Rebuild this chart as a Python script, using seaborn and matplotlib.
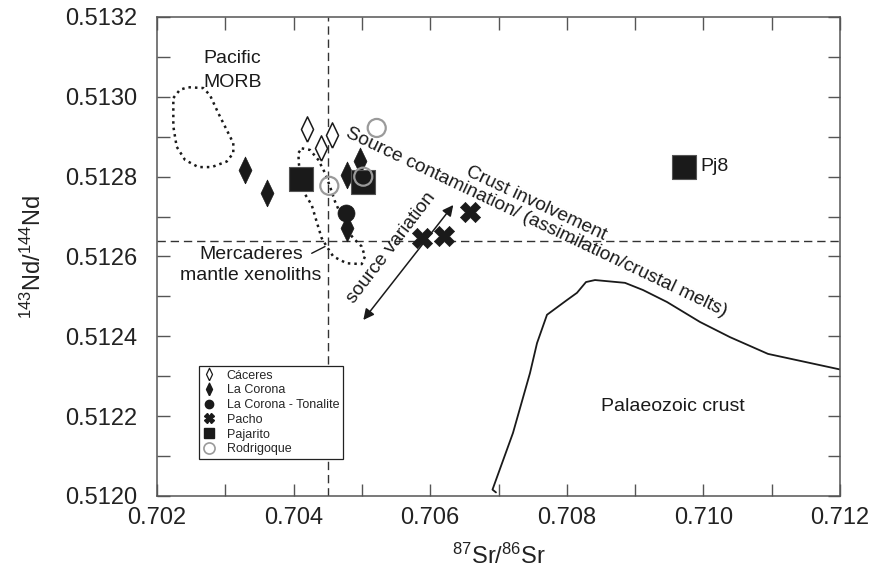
import matplotlib
matplotlib.use("Agg")
import matplotlib.pyplot as plt
import seaborn as sns
from matplotlib.lines import Line2D
from matplotlib.ticker import MultipleLocator, FormatStrFormatter

# ---------------- data ----------------
caceres_x = [0.704201, 0.704397, 0.704558]
caceres_y = [0.512919, 0.512871, 0.512905]

lacorona_x = [0.703288, 0.703606, 0.704778, 0.704972, 0.704778]
lacorona_y = [0.512817, 0.512760, 0.512805, 0.512838, 0.512672]

tonalite_x = [0.704767]
tonalite_y = [0.512709]

pacho_x = [0.705880, 0.706202, 0.706583]
pacho_y = [0.512647, 0.512652, 0.512712]

pajarito_x = [0.704108, 0.705020, 0.709716]
pajarito_y = [0.512794, 0.512786, 0.512825]

rodrigoque_x = [0.705217, 0.704523, 0.705020]
rodrigoque_y = [0.512922, 0.512777, 0.512800]

morb_x = [0.702239, 0.702337, 0.702458, 0.702678, 0.702776, 0.702898, 0.703021,
          0.703117, 0.703117, 0.703021, 0.702801, 0.702605, 0.702410, 0.702288,
          0.702239, 0.702239]
morb_y = [0.512997, 0.513018, 0.513024, 0.513022, 0.513004, 0.512959, 0.512917,
          0.512884, 0.512859, 0.512838, 0.512824, 0.512824, 0.512842, 0.512875,
          0.512926, 0.512997]

merc_x = [0.704119, 0.704240, 0.704362, 0.704460, 0.704533, 0.704606, 0.704704,
          0.704801, 0.704874, 0.704997, 0.705045, 0.704997, 0.704777, 0.704581,
          0.704485, 0.704411, 0.704338, 0.704265, 0.704142, 0.704079, 0.704069,
          0.704119]
merc_y = [0.512871, 0.512867, 0.512842, 0.512809, 0.512775, 0.512738, 0.512700,
          0.512662, 0.512646, 0.512625, 0.512600, 0.512581, 0.512583, 0.512600,
          0.512625, 0.512646, 0.512687, 0.512729, 0.512763, 0.512830, 0.512859,
          0.512871]

crust_x = [0.706963, 0.706912, 0.707212, 0.707461, 0.707564, 0.707710, 0.708003,
           0.708149, 0.708281, 0.708413, 0.708852, 0.709116, 0.709467, 0.709950,
           0.710389, 0.710946, 0.712000]
crust_y = [0.512009, 0.512016, 0.512158, 0.512308, 0.512383, 0.512454, 0.512491,
           0.512509, 0.512536, 0.512541, 0.512534, 0.512516, 0.512486, 0.512436,
           0.512398, 0.512356, 0.512317]

bulk_earth_sr = 0.7045
chur_nd = 0.51264

arrow_start = (0.705021, 0.512441)
arrow_end = (0.706338, 0.512729)

legend_labels = ["Cáceres", "La Corona", "La Corona - Tonalite", "Pacho", "Pajarito", "Rodrigoque"]

# ---------------- style ----------------
sns.set_style("ticks")
plt.rcParams["font.family"] = ["Liberation Sans", "DejaVu Sans"]
plt.rcParams["mathtext.default"] = "regular"

fig = plt.figure(figsize=(8.76, 5.71), dpi=100)
ax = fig.add_axes([157 / 876, 1 - 496 / 571, (840 - 157) / 876, (496 - 17) / 571])

ink = "#1a1a1a"
grey = "#9a9a9a"
diamond = [(0, -1), (0.48, 0), (0, 1), (-0.48, 0), (0, -1)]

# reference lines
ax.axvline(bulk_earth_sr, color="#333333", lw=1, ls=(0, (6, 3.5)), zorder=1)
ax.axhline(chur_nd, color="#333333", lw=1, ls=(0, (6, 3.5)), zorder=1)

# outlines
dot = (0, (1, 1.6))
sns.lineplot(x=morb_x, y=morb_y, sort=False, estimator=None, ax=ax,
             color=ink, lw=1.8, linestyle=dot)
sns.lineplot(x=merc_x, y=merc_y, sort=False, estimator=None, ax=ax,
             color=ink, lw=1.8, linestyle=dot)
sns.lineplot(x=crust_x, y=crust_y, sort=False, estimator=None, ax=ax,
             color=ink, lw=1.3)

# points
sns.scatterplot(x=lacorona_x, y=lacorona_y, marker=diamond, s=376, color=ink,
                edgecolor=ink, linewidth=0.5, ax=ax, zorder=4)
sns.scatterplot(x=tonalite_x, y=tonalite_y, marker="o", s=150, color=ink,
                edgecolor=ink, linewidth=0.5, ax=ax, zorder=4)
sns.scatterplot(x=caceres_x, y=caceres_y, marker=diamond, s=330, color="white",
                edgecolor=ink, linewidth=1.1, ax=ax, zorder=4)
sns.scatterplot(x=pacho_x, y=pacho_y, marker="X", s=210, color=ink,
                edgecolor=ink, linewidth=0.5, ax=ax, zorder=4)
sns.scatterplot(x=pajarito_x, y=pajarito_y, marker="s", s=275, color=ink,
                edgecolor="#555555", linewidth=0.8, ax=ax, zorder=4)
sns.scatterplot(x=rodrigoque_x, y=rodrigoque_y, marker="o", s=169, color=grey,
                edgecolor=grey, linewidth=1.6, ax=ax, zorder=5)
ax.collections[-1].set_facecolor("none")

# arrow
ax.annotate("", xy=arrow_start, xytext=arrow_end,
            arrowprops=dict(arrowstyle="<|-|>", color=ink, lw=1.1,
                            mutation_scale=16, shrinkA=0, shrinkB=0))

# texts
tfs = 14
ax.text(0.702673, 0.513085, "Pacific", fontsize=tfs, color=ink, ha="left", va="baseline")
ax.text(0.702673, 0.513025, "MORB", fontsize=tfs, color=ink, ha="left", va="baseline")
ax.text(0.703376, 0.512579, "Mercaderes\nmantle xenoliths", fontsize=tfs, color=ink,
        ha="center", va="center", multialignment="center", linespacing=1.25)
ax.plot([0.704265, 0.704460], [0.512608, 0.512625], color=ink, lw=1)
ax.text(0.707549, 0.512685, "Source contamination/ (assimilation/crustal melts)",
        fontsize=13.8, color=ink, rotation=-25.4, rotation_mode="anchor",
        ha="center", va="center")
ax.text(0.707546, 0.512734, "Crust involvement", fontsize=13.8, color=ink,
        rotation=-25.2, rotation_mode="anchor", ha="center", va="center")
ax.text(0.705436, 0.512623, "source variation", fontsize=13.8, color=ink,
        rotation=52.6, rotation_mode="anchor", ha="center", va="center")
ax.text(0.709555, 0.512223, "Palaeozoic crust", fontsize=tfs, color=ink,
        ha="center", va="center")
ax.text(0.709950, 0.512825, "Pj8", fontsize=tfs, color=ink, ha="left", va="center")

# axes
ax.set_xlim(0.702, 0.712)
ax.set_ylim(0.5120, 0.5132)
ax.xaxis.set_major_locator(MultipleLocator(0.002))
ax.xaxis.set_minor_locator(MultipleLocator(0.001))
ax.yaxis.set_major_locator(MultipleLocator(0.0002))
ax.yaxis.set_minor_locator(MultipleLocator(0.0001))
ax.xaxis.set_major_formatter(FormatStrFormatter("%.3f"))
ax.yaxis.set_major_formatter(FormatStrFormatter("%.4f"))
ax.tick_params(which="both", direction="in", top=True, right=True,
               color="#555555", width=1)
ax.tick_params(which="major", length=9)
ax.tick_params(which="minor", length=9)
ax.tick_params(axis="x", which="major", labelsize=17, pad=8, labelcolor="#222222")
ax.tick_params(axis="y", which="major", labelsize=17, pad=14, labelcolor="#222222")
for sp in ax.spines.values():
    sp.set_color("#555555")
    sp.set_linewidth(1.1)

ax.set_xlabel("$^{87}$Sr/$^{86}$Sr", fontsize=17, color="#222222")
ax.set_ylabel("$^{143}$Nd/$^{144}$Nd", fontsize=17, color="#222222")
ax.xaxis.set_label_coords(0.5, -0.100)
ax.yaxis.set_label_coords(-0.163, 0.5)

# legend
handles = [
    Line2D([], [], ls="", marker=diamond, ms=9, mfc="white", mec=ink, mew=0.9),
    Line2D([], [], ls="", marker=diamond, ms=9, mfc=ink, mec=ink),
    Line2D([], [], ls="", marker="o", ms=6, mfc=ink, mec=ink),
    Line2D([], [], ls="", marker="X", ms=7, mfc=ink, mec=ink),
    Line2D([], [], ls="", marker="s", ms=6.5, mfc=ink, mec=ink),
    Line2D([], [], ls="", marker="o", ms=8, mfc="none", mec=grey, mew=1.2),
]
leg = ax.legend(handles, legend_labels, loc="lower left",
                bbox_to_anchor=(0.0615, 0.077), borderaxespad=0, fontsize=9,
                frameon=True, fancybox=False, edgecolor="#222222",
                framealpha=1, handlelength=1.0, handletextpad=0.9,
                labelspacing=0.22, borderpad=0.3)
leg.get_frame().set_linewidth(0.9)

fig.savefig("out.png", dpi=100)
